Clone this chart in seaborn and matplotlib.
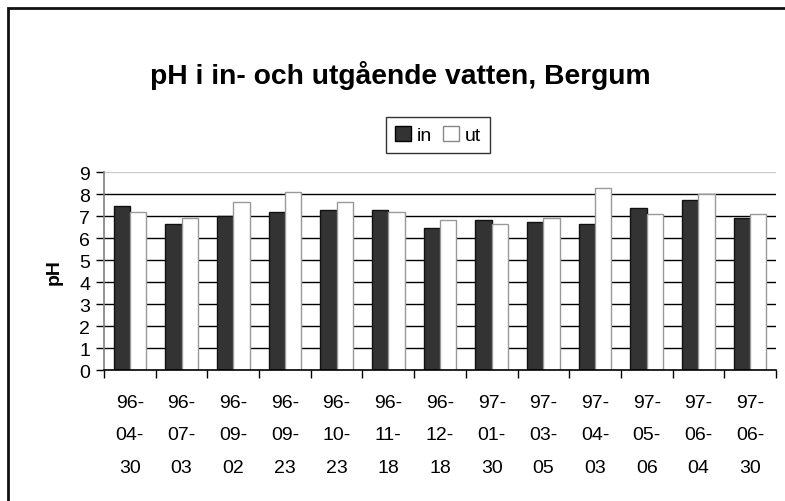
import matplotlib
matplotlib.use("Agg")
import matplotlib.pyplot as plt
import matplotlib.patches as mpatches
import numpy as np
import pandas as pd
import seaborn as sns

# Provtagningsdatum (yy-mm-dd) och pH-värden
dates = ["96-04-30", "96-07-03", "96-09-02", "96-09-23", "96-10-23", "96-11-18",
         "96-12-18", "97-01-30", "97-03-05", "97-04-03", "97-05-06", "97-06-04",
         "97-06-30"]
ph_in = [7.45, 6.63, 7.0, 7.19, 7.29, 7.29, 6.45, 6.82, 6.72, 6.63, 7.36, 7.73, 6.9]
ph_ut = [7.18, 6.9, 7.64, 8.09, 7.64, 7.18, 6.8, 6.63, 6.9, 8.27, 7.09, 8.0, 7.09]
series = ["in", "ut"]
yticks = list(range(0, 10))

df = pd.DataFrame({
    "datum": dates * 2,
    "pH": ph_in + ph_ut,
    "serie": [series[0]] * len(dates) + [series[1]] * len(dates),
})

sns.set_theme(style="white")
plt.rcParams["font.family"] = ["Liberation Sans", "DejaVu Sans"]
plt.rcParams.update({"text.color": "black", "axes.labelcolor": "black",
                     "xtick.color": "black", "ytick.color": "black"})

fig = plt.figure(figsize=(7.85, 5.02), dpi=100)
W, H = 785, 502
ax = fig.add_axes([104 / W, 1 - 371 / H, (776 - 104) / W, (371 - 173) / H])

sns.barplot(data=df, x="datum", y="pH", hue="serie", order=dates,
            hue_order=series, palette={"in": "#333333", "ut": "#ffffff"},
            width=0.63, gap=0, ax=ax, legend=False)

for patch, edge in zip(ax.patches, ["#111111"] * len(dates) + ["#999999"] * len(dates)):
    patch.set_edgecolor(edge)
    patch.set_linewidth(1.0)
    patch.set_zorder(3)

ax.set_ylim(0, 9)
ax.set_xlim(-0.5, len(dates) - 0.5)
ax.set_yticks(yticks)
ax.set_yticklabels([str(t) for t in yticks], fontsize=14)

# horizontal grid lines
for t in yticks[1:-1]:
    ax.axhline(t, color="black", lw=1.0, zorder=1)
ax.axhline(9, color="#cccccc", lw=1.0, zorder=1)

# category labels stacked over three rows
labels = ["-\n".join(d.split("-")) for d in dates]
ax.set_xticks(range(len(dates)))
ax.set_xticklabels(labels, fontsize=14, linespacing=2.2)
ax.tick_params(axis="x", which="major", length=0, pad=17)
ax.set_xticks(np.arange(-0.5, len(dates), 1.0), minor=True)
ax.tick_params(axis="x", which="minor", length=6, width=1, color="black",
               direction="out", bottom=True)
ax.tick_params(axis="y", length=6, width=1, color="black", direction="out",
               left=True, pad=4)

for side in ["top", "right"]:
    ax.spines[side].set_visible(False)
ax.spines["left"].set_color("#808080")
ax.spines["left"].set_linewidth(1.2)
ax.spines["bottom"].set_color("black")
ax.spines["bottom"].set_linewidth(1.2)
ax.spines["bottom"].set_zorder(4)

ax.set_xlabel("")
ax.set_ylabel("pH", fontsize=14, fontweight="bold", labelpad=12)

fig.text(400 / W, 1 - 75 / H, "pH i in- och utgående vatten, Bergum",
         ha="center", va="center", fontsize=20.3, fontweight="bold")

handles = [mpatches.Patch(facecolor="#333333", edgecolor="black", label="in"),
           mpatches.Patch(facecolor="white", edgecolor="#888888", label="ut")]
leg = fig.legend(handles=handles, loc="center", bbox_to_anchor=(438 / W, 1 - 136 / H),
                 ncol=2, fontsize=14, frameon=True, fancybox=False,
                 handlelength=0.8, handleheight=0.8, handletextpad=0.3,
                 columnspacing=0.6, borderpad=0.45)
leg.get_frame().set_edgecolor("black")
leg.get_frame().set_linewidth(1.0)

# chart frame
fig.patches.append(mpatches.Rectangle((8 / W, -0.1), 1.2, 1 - 9 / H + 0.1,
                                      transform=fig.transFigure, fill=False,
                                      edgecolor="#111111", linewidth=2.0))

fig.savefig("out.png", dpi=100)
